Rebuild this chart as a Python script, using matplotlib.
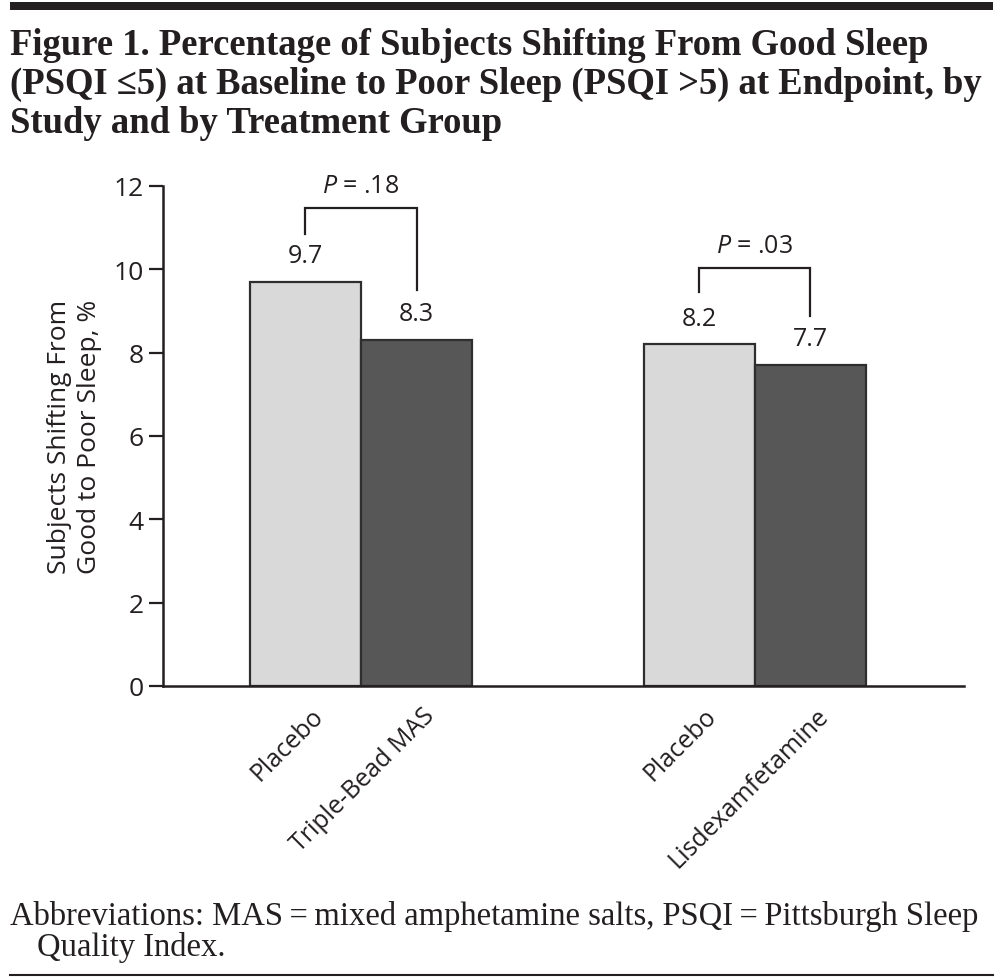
import numpy as np
import matplotlib
matplotlib.use("Agg")
from matplotlib import pyplot as plt
from matplotlib.patches import Rectangle
from matplotlib.lines import Line2D
from matplotlib.transforms import ScaledTranslation

# data
groups = ["Triple-Bead MAS study", "Lisdexamfetamine study"]
bar_labels = ["Placebo", "Triple-Bead MAS", "Placebo", "Lisdexamfetamine"]
values = [9.7, 8.3, 8.2, 7.7]
p_texts = [".18", ".03"]
yticks = [0, 2, 4, 6, 8, 10, 12]

title_lines = ["Figure 1. Percentage of Subjects Shifting From Good Sleep",
               "(PSQI \u22645) at Baseline to Poor Sleep (PSQI >5) at Endpoint, by",
               "Study and by Treatment Group"]
foot_lines = ["Abbreviations: MAS\u2009=\u2009mixed amphetamine salts, PSQI\u2009=\u2009Pittsburgh Sleep",
              "Quality Index."]

light = "#d9d9d9"
dark = "#575757"
ink = "#231f20"

plt.rcParams['font.family'] = ['Open Sans', 'DejaVu Sans']
plt.rcParams['mathtext.fontset'] = 'custom'
plt.rcParams['mathtext.it'] = 'Open Sans:italic'
plt.rcParams['mathtext.rm'] = 'Open Sans'

W, H = 1005, 979
fig = plt.figure(figsize=(W / 100, H / 100), dpi=100)

def fx(px):
    return px / W

def fy(py):
    return 1 - py / H

# axes box
ax = fig.add_axes([fx(163), fy(687), fx(964 - 163), (687 - 187) / H])

group_gap = 3.54
pos = []
for g in range(len(groups)):
    pos += [g * group_gap, g * group_gap + 1]
pos = np.array(pos)
colors = [light, dark, light, dark]

ax.bar(pos, values, width=1.0, color=colors, edgecolor="#2e2e2e", linewidth=1.6, zorder=2)

for x, v in zip(pos, values):
    ax.text(x, v + 0.63, f"{v}", ha="center", va="center", fontsize=18, color=ink)

# significance brackets
br_top = [11.47, 10.03]
br_left = [10.85, 9.46]
br_right = [9.5, 8.88]
for g in range(len(groups)):
    x0, x1 = pos[2 * g], pos[2 * g + 1]
    ax.plot([x0, x0, x1, x1], [br_left[g], br_top[g], br_top[g], br_right[g]],
            color=ink, lw=1.6, clip_on=False, solid_joinstyle="miter")
    ax.text((x0 + x1) / 2, br_top[g] + 0.55, r"$\it{P}$" + " = " + p_texts[g],
            ha="center", va="center", fontsize=18, color=ink)

ax.set_xlim(-1.28, 5.92)
ax.set_ylim(0, 12)
ax.set_yticks(yticks)
ax.set_yticklabels([str(t) for t in yticks], fontsize=19, color=ink)
ax.tick_params(axis="y", length=10, width=1.6, color=ink, pad=4)
ax.set_xticks(pos)
ax.set_xticklabels(bar_labels, rotation=45, ha="right", va="top",
                   rotation_mode="anchor", fontsize=18, color=ink)
ax.tick_params(axis="x", length=0, pad=12)
shift = ScaledTranslation(5 / 100, 0, fig.dpi_scale_trans)
for lab in ax.get_xticklabels():
    lab.set_transform(lab.get_transform() + shift)
for s in ["top", "right"]:
    ax.spines[s].set_visible(False)
for s in ["left", "bottom"]:
    ax.spines[s].set_linewidth(1.8)
    ax.spines[s].set_color(ink)

ax.set_ylabel("Subjects Shifting From\nGood to Poor Sleep, %", fontsize=19,
              color=ink, linespacing=1.25, labelpad=8)

# header bar and title
fig.add_artist(Rectangle((fx(10), fy(11)), fx(993 - 10), 8 / H,
                         transform=fig.transFigure, color=ink, lw=0))
for i, line in enumerate(title_lines):
    fig.text(fx(10), fy(55 + 39 * i), line, ha="left", va="baseline",
             family="Liberation Serif", weight="bold", fontsize=26.4, color=ink)

# footnote
fig.text(fx(10), fy(925), foot_lines[0], ha="left", va="baseline",
         family="Liberation Serif", fontsize=23.5, color=ink)
fig.text(fx(37), fy(956), foot_lines[1], ha="left", va="baseline",
         family="Liberation Serif", fontsize=23.5, color=ink)
fig.add_artist(Line2D([fx(10), fx(993)], [fy(976), fy(976)],
                      transform=fig.transFigure, color=ink, lw=1.5))

fig.savefig("out.png", dpi=100)
